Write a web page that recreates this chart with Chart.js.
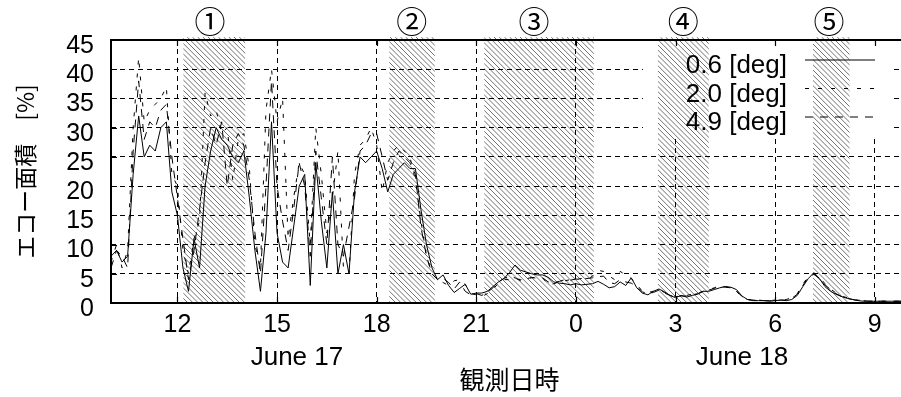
<!DOCTYPE html>
<html><head><meta charset="utf-8">
<script src="https://cdn.jsdelivr.net/npm/chart.js@4"></script>
<style>
html,body{margin:0;padding:0;overflow:hidden;background:#fff;width:901px;height:397px}
#wrap{width:910px;height:397px}
</style></head><body>
<div id="wrap"><canvas id="c" width="910" height="397"></canvas></div>
<script>
// ---- data ----
const hourTicks = [12, 15, 18, 21, 24, 27, 30, 33];
const seriesNames = ['0.6 [deg]', '2.0 [deg]', '4.9 [deg]'];
const startHour = 10;      // June 17, 10:00
const stepMinutes = 10;    // one value every 10 minutes
const eco06 = [
  8, 9, 7, 8, 22, 32,
  25, 27, 26, 30, 31, 19,
  15, 6, 2, 11, 6, 20,
  26, 30, 28, 27, 25, 24,
  26, 18, 9, 2, 12, 31,
  12, 7, 6, 13, 20, 22,
  3, 24, 14, 6, 19, 5,
  10, 5, 19, 25, 24, 25,
  26, 23, 19, 22, 23, 24,
  23, 23, 16, 10, 6, 4,
  4.8, 3.0, 1.8, 2.5, 3.2, 1.5,
  1.7, 1.7, 2.0, 2.8, 3.6, 4.2,
  5.2, 6.5, 5.6, 5.3, 5.0, 4.8,
  4.8, 4.4, 3.6, 3.4, 3.3, 3.1,
  3.3, 3.1, 3.2, 3.3, 3.7, 3.2,
  2.6, 2.8, 3.6, 3.0, 4.3, 2.6,
  1.7, 1.4, 2.0, 2.4, 1.9, 1.3,
  0.9, 1.3, 1.0, 1.3, 1.5, 2.0,
  2.0, 2.3, 2.6, 2.8, 2.7, 2.3,
  1.2, 0.6, 0.4, 0.4, 0.4, 0.3,
  0.4, 0.5, 0.4, 0.6, 1.3, 2.8,
  4.2, 5.2, 4.2, 2.8, 2.0, 1.5,
  1.1, 0.8, 0.6, 0.4, 0.3, 0.3,
  0.3, 0.3, 0.3, 0.3, 0.3, 0.3
];
const eco20 = [
  7, 10, 6, 9, 30, 42,
  31, 33, 34, 35, 37, 22,
  20, 9, 5, 11, 14, 36,
  32, 33, 29, 30, 21, 28,
  29, 23, 10, 6, 33, 40,
  31, 35, 11, 18, 24, 22,
  10, 30, 22, 12, 18, 26,
  6, 5, 22, 27, 28, 30,
  27, 19, 24, 26, 27, 26,
  25, 21, 14, 8, 5, 4,
  3.5, 3.0, 3.8, 4.0, 3.2, 1.6,
  1.4, 1.1, 1.6, 2.3, 3.4, 4.0,
  4.0, 4.2, 4.0, 4.1, 4.3, 4.4,
  4.3, 3.1, 3.3, 3.6, 3.8, 4.0,
  4.0, 4.2, 4.0, 4.6, 5.6, 5.4,
  4.6, 4.0, 5.4, 4.8, 4.2, 3.2,
  2.0, 1.8, 2.0, 2.3, 1.8, 1.4,
  1.1, 1.2, 1.3, 1.5, 1.7, 2.0,
  2.3, 2.6, 3.0, 2.8, 2.6, 2.0,
  1.0, 0.6, 0.5, 0.5, 0.4, 0.4,
  0.5, 0.5, 0.6, 0.9, 1.6, 3.2,
  4.6, 5.0, 4.4, 3.3, 2.4, 1.7,
  1.2, 0.9, 0.6, 0.5, 0.4, 0.3,
  0.3, 0.3, 0.3, 0.3, 0.3, 0.3
];
const eco49 = [
  6, 9, 8, 6, 26, 38,
  28, 31, 30, 33, 34, 25,
  18, 11, 4, 9, 16, 24,
  30, 27, 31, 20, 27, 29,
  27, 21, 12, 5, 20, 38,
  20, 14, 9, 16, 24, 20,
  8, 26, 18, 10, 25, 10,
  8, 13, 18, 26, 27, 29,
  29, 25, 21, 24, 26, 25,
  24, 22, 13, 8, 5, 4,
  4.2, 3.5, 2.4, 3.6, 2.0, 1.4,
  1.6, 1.3, 1.8, 2.6, 3.6, 4.2,
  4.6, 4.3, 3.8, 4.1, 4.4, 4.2,
  4.3, 3.6, 3.5, 3.7, 4.0, 3.9,
  4.1, 4.0, 4.2, 4.3, 4.5, 4.6,
  3.5, 3.3, 4.0, 3.6, 3.4, 2.8,
  1.9, 1.6, 1.8, 2.2, 1.7, 1.3,
  1.0, 1.2, 1.2, 1.4, 1.6, 2.0,
  2.2, 2.5, 2.9, 2.7, 2.6, 2.1,
  1.1, 0.6, 0.5, 0.4, 0.4, 0.4,
  0.4, 0.5, 0.5, 0.8, 1.5, 3.0,
  4.4, 4.9, 4.2, 3.1, 2.3, 1.6,
  1.1, 0.8, 0.6, 0.4, 0.4, 0.3,
  0.3, 0.3, 0.3, 0.3, 0.3, 0.3
];
const hatchStart = [12.18, 18.38, 21.24, 26.47, 31.14];
const hatchEnd   = [14.04, 19.75, 24.54, 28.00, 32.24];
const regionMarks = ['①', '②', '③', '④', '⑤'];
const regionMarkHours = [12.98, 19.06, 22.74, 27.23, 31.62];
const dateLabels = ['June 17', 'June 18'];
const dateLabelHours = [15.6, 29.0];

// ---- build ----
const times = eco06.map((_, i) => startHour + i * stepMinutes / 60);
const toXY = arr => arr.map((v, i) => ({x: times[i], y: v}));
const dashes = [[], [4, 9], [8, 7]];
const seriesValues = [eco06, eco20, eco49];

const deco = {
  id: 'deco',
  beforeDatasetsDraw(chart) {
    const {ctx, chartArea: a, scales: {x}} = chart;
    ctx.save();
    // legend background
    ctx.fillStyle = '#fff';
    ctx.fillRect(643, a.top + 1, 248, 96);
    // hatched regions
    ctx.strokeStyle = 'rgba(0,0,0,0.7)';
    ctx.lineWidth = 0.8;
    const top = a.top - 3, bot = a.bottom, H = bot - top, sp = 5.2;
    hatchStart.forEach((h0, k) => {
      const x0 = x.getPixelForValue(h0), x1 = x.getPixelForValue(hatchEnd[k]);
      ctx.save();
      ctx.beginPath(); ctx.rect(x0, top, x1 - x0, H); ctx.clip();
      ctx.beginPath();
      for (let s = Math.floor((x0 - H) / sp) * sp; s < x1; s += sp) {
        ctx.moveTo(s, top); ctx.lineTo(s + H, bot);
      }
      ctx.stroke();
      ctx.restore();
    });
    ctx.restore();
  },
  afterDatasetsDraw(chart) {
    const {ctx, chartArea: a, scales: {x, y}} = chart;
    ctx.save();
    // frame
    ctx.strokeStyle = '#000'; ctx.lineWidth = 2; ctx.setLineDash([]);
    ctx.strokeRect(a.left, a.top, a.right - a.left, a.bottom - a.top);
    // tick marks
    ctx.lineWidth = 1.2;
    ctx.beginPath();
    hourTicks.forEach(h => {
      const px = Math.round(x.getPixelForValue(h)) + 0.5;
      ctx.moveTo(px, a.bottom); ctx.lineTo(px, a.bottom - 6);
      ctx.moveTo(px, a.top); ctx.lineTo(px, a.top + 6);
    });
    for (let v = 5; v < 45; v += 5) {
      const py = Math.round(y.getPixelForValue(v)) + 0.5;
      ctx.moveTo(a.left, py); ctx.lineTo(a.left + 6, py);
    }
    ctx.stroke();
    // legend
    ctx.fillStyle = '#000';
    ctx.font = '26px "Liberation Sans", Arial, sans-serif';
    ctx.textAlign = 'right'; ctx.textBaseline = 'alphabetic';
    seriesNames.forEach((n, i) => {
      const base = a.top + 33 + i * 28.5;
      ctx.fillText(n, 787, base);
      ctx.beginPath();
      ctx.lineWidth = 1;
      ctx.setLineDash(dashes[i]);
      ctx.moveTo(805, base - 13); ctx.lineTo(875, base - 13);
      ctx.stroke();
    });
    ctx.setLineDash([]);
    // region marks
    ctx.font = '31px "Noto Sans CJK JP", "DejaVu Sans", sans-serif';
    ctx.textAlign = 'center'; ctx.textBaseline = 'middle';
    regionMarks.forEach((m, i) => ctx.fillText(m, x.getPixelForValue(regionMarkHours[i]), 21));
    // date labels
    ctx.font = '26px "Liberation Sans", Arial, sans-serif';
    dateLabels.forEach((d, i) => ctx.fillText(d, x.getPixelForValue(dateLabelHours[i]), 358));
    ctx.restore();
  }
};

Chart.defaults.font.family = '"Liberation Sans", Arial, sans-serif';
Chart.defaults.color = '#000';

new Chart(document.getElementById('c'), {
  type: 'line',
  data: {
    datasets: seriesValues.map((vals, i) => ({
      label: seriesNames[i],
      data: toXY(vals),
      borderColor: '#000',
      borderWidth: 1,
      borderDash: dashes[i],
      pointRadius: 0,
      tension: 0,
      fill: false
    }))
  },
  options: {
    responsive: false,
    animation: false,
    devicePixelRatio: 1,
    layout: {padding: {top: 40, right: 2, left: 0, bottom: 0}},
    plugins: {legend: {display: false}, tooltip: {enabled: false}},
    scales: {
      x: {
        type: 'linear', min: 10, max: 34,
        afterBuildTicks: s => { s.ticks = hourTicks.map(v => ({value: v})); },
        afterFit: s => { s.height = 94; },
        grid: {color: '#000', lineWidth: 1, drawTicks: false},
        border: {display: false, dash: [5, 4]},
        ticks: {padding: 7, font: {size: 25}, color: '#000', maxRotation: 0, autoSkip: false,
                callback: v => String(v % 24)},
        title: {display: true, text: '観測日時', color: '#000',
                font: {family: '"Noto Sans CJK JP", sans-serif', size: 25},
                padding: {top: 0, bottom: 3}}
      },
      y: {
        min: 0, max: 45,
        afterFit: s => { s.width = 111; },
        grid: {color: '#000', lineWidth: 1, drawTicks: false},
        border: {display: false, dash: [5, 4]},
        ticks: {stepSize: 5, autoSkip: false, padding: 17, labelOffset: 6, font: {size: 25}, color: '#000'},
        title: {display: true, text: 'エコー面積　[%]', color: '#000',
                font: {family: '"Noto Sans CJK JP", sans-serif', size: 23},
                padding: {top: 11, bottom: 0}}
      }
    }
  },
  plugins: [deco]
});
</script>
</body></html>
